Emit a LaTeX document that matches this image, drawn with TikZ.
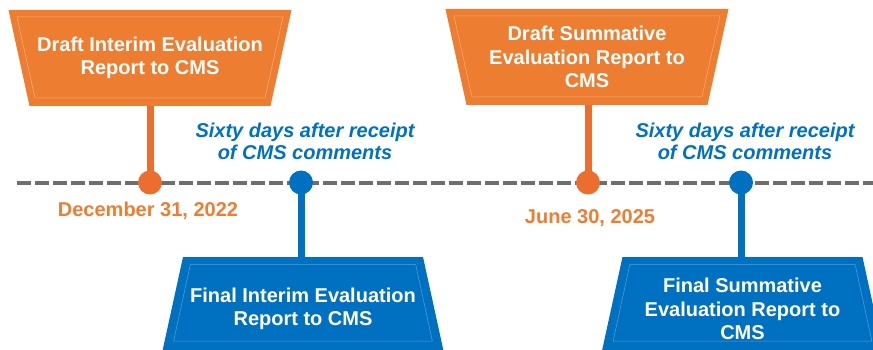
\documentclass[tikz,border=0pt]{standalone}
\usepackage{fontspec}
\setmainfont{Liberation Sans}
\usepackage{tikz}
\definecolor{draftorange}{HTML}{ED7D31}
\definecolor{stemorange}{HTML}{EB6E2F}
\definecolor{draftline}{HTML}{F5AE7C}
\definecolor{finalblue}{HTML}{0070C0}
\definecolor{finalline}{HTML}{5A9FD4}
\definecolor{axisgray}{HTML}{6D6E70}
\begin{document}
\begin{tikzpicture}[x=1pt,y=-1pt,
	report/.style={minimum width=283pt, minimum height=96pt, inner sep=0pt, text=white, align=center, font=\bfseries\fontsize{20}{23.5}\selectfont},
	draft/.style={report, path picture={
		\fill [draftorange] (path picture bounding box.north west) -- (path picture bounding box.north east) -- ([xshift=-21pt]path picture bounding box.south east) -- ([xshift=21pt]path picture bounding box.south west) -- cycle;
		\draw [draftline, line width=0.5pt] ([xshift=8.5pt,yshift=-7pt]path picture bounding box.north west) -- ([xshift=-8.5pt,yshift=-7pt]path picture bounding box.north east) -- ([xshift=-26.5pt,yshift=8pt]path picture bounding box.south east) -- ([xshift=26.5pt,yshift=8pt]path picture bounding box.south west) -- cycle;}},
	final/.style={report, minimum width=285.5pt, minimum height=104pt, path picture={
		\fill [finalblue] ([xshift=22.75pt]path picture bounding box.north west) -- ([xshift=-22.75pt]path picture bounding box.north east) -- (path picture bounding box.south east) -- (path picture bounding box.south west) -- cycle;
		\draw [finalline, line width=0.5pt] ([xshift=30.1pt,yshift=-7.5pt]path picture bounding box.north west) -- ([xshift=-30.1pt,yshift=-7.5pt]path picture bounding box.north east) -- ([xshift=-13.4pt,yshift=20pt]path picture bounding box.south east) -- ([xshift=13.4pt,yshift=20pt]path picture bounding box.south west) -- cycle;}},
	dot/.style={circle, minimum size=24pt, inner sep=0pt},
	stem/.style={line width=7pt},
	date/.style={text=draftorange, font=\bfseries\fontsize{20}{23.5}\selectfont},
	note/.style={text=finalblue, align=center, font=\bfseries\itshape\fontsize{20}{22}\selectfont}]
		\useasboundingbox (0,0) rectangle (873,350);
		%\draw [help lines, step=50] (0,0) grid (873,350);
		% time line
		\coordinate (axisstart) at (17,182.5);
		\coordinate (axisend) at (873,182.5);
		\draw [axisgray, line width=4pt, dash pattern=on 14pt off 4pt] (axisstart) -- (axisend);
		% reports
		\node [draft] (draft1) at (150,58) {Draft Interim Evaluation\\Report to CMS};
		\node [draft] (draft2) at (587,57) {Draft Summative\\Evaluation Report to\\CMS};
		\node [final] (final1) at (303,309) {Final Interim Evaluation\\Report to CMS};
		\node [final] (final2) at (742.5,309) {Final Summative\\Evaluation Report to\\CMS};
		% milestones
		\node [dot, fill=stemorange] (dot1) at (150,182.5) {};
		\node [dot, fill=finalblue] (dot2) at (301,182.5) {};
		\node [dot, fill=stemorange] (dot3) at (588,182.5) {};
		\node [dot, fill=finalblue] (dot4) at (741,182.5) {};
		\draw [stem, stemorange] (dot1.center) -- (dot1 |- draft1.south);
		\draw [stem, finalblue] (dot2.center) -- (dot2 |- final1.north);
		\draw [stem, stemorange] (dot3.center) -- (dot3 |- draft2.south);
		\draw [stem, finalblue] (dot4.center) -- (dot4 |- final2.north);
		% labels
		\node [date] (date1) at (148,211) {December 31, 2022};
		\node [date] (date2) at (590,218) {June 30, 2025};
		\node [note] (note1) at (305,141) {Sixty days after receipt\\of CMS comments};
		\node [note] (note2) at (745,141) {Sixty days after receipt\\of CMS comments};
	\end{tikzpicture}
\end{document}
